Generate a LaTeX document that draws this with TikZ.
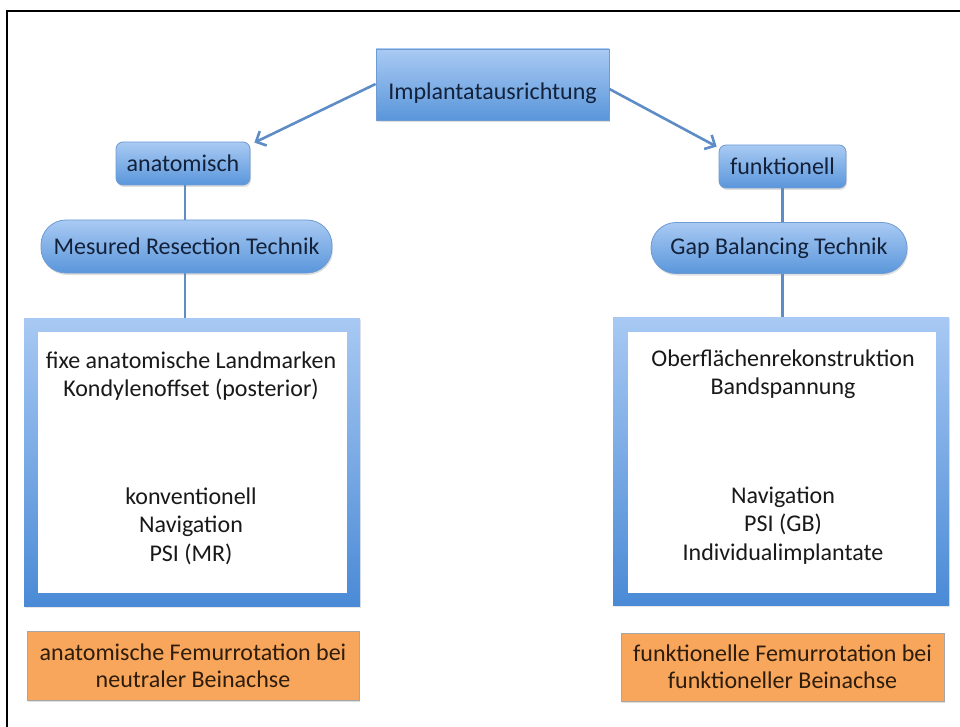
\documentclass[tikz,border=0pt]{standalone}
\usepackage{fontspec}
\setmainfont{Carlito}
\usetikzlibrary{arrows.meta,shadows}
\definecolor{bluetop}{HTML}{A9CAF3}
\definecolor{bluebot}{HTML}{5A96DB}
\definecolor{blueline}{HTML}{5E8CC6}
\definecolor{blueedge}{HTML}{6E9BD2}
\definecolor{frametop}{HTML}{A8C9F3}
\definecolor{framebot}{HTML}{4A8AD6}
\definecolor{orangefill}{HTML}{F8A65B}
\definecolor{orangeedge}{HTML}{A6A6A6}
\definecolor{navytext}{HTML}{14213A}
\definecolor{browntext}{HTML}{2E1C0C}
\tikzset{
  bluenode/.style={draw=blueedge, line width=0.8pt, top color=bluetop, bottom color=bluebot,
    text=navytext, font=\fontsize{24}{28}\selectfont, inner sep=0pt,
    drop shadow={opacity=0.25, shadow xshift=1pt, shadow yshift=-2pt}},
  rrect/.style={bluenode, rounded corners=7pt},
  stadium/.style={bluenode, rounded corners=25pt},
  frameouter/.style={draw=none, top color=frametop, bottom color=framebot, inner sep=0pt,
    drop shadow={opacity=0.2, shadow xshift=1pt, shadow yshift=-2pt}},
  frameinner/.style={fill=white, draw=none, inner sep=0pt},
  boxtext/.style={align=center, text=black!90, font=\fontsize{24}{28.5}\selectfont},
  orangebox/.style={draw=orangeedge, line width=0.8pt, fill=orangefill, align=center,
    text=browntext, font=\fontsize{24}{27}\selectfont, inner sep=0pt,
    drop shadow={opacity=0.25, shadow xshift=1pt, shadow yshift=-2pt}},
  conn/.style={draw=blueline, line width=2.6pt},
  arr/.style={conn, -{Straight Barb[length=8pt,width=16pt,line width=2.6pt]}}
}
\begin{document}
\begin{tikzpicture}[x=1pt,y=-1pt]
\useasboundingbox (0,0) rectangle (960,727);
% outer frame lines
\draw[line width=2.6pt] (7,727) -- (7,11) -- (960,11);

% top node
\node[bluenode, minimum width=233pt, minimum height=71pt, text height=30pt, text depth=0pt] (top) at (492.5,84.5) {Implantatausrichtung};

% left column
\node[rrect, minimum width=134pt, minimum height=43pt] (anat) at (183,163.5) {anatomisch};
\node[stadium, minimum width=291pt, minimum height=53pt] (mr) at (186.5,246.5) {Mesured Resection Technik};
\node[frameouter, minimum width=336pt, minimum height=288pt] (lbox) at (192,462) {};
\node[frameinner, minimum width=309pt, minimum height=261pt] (lin) at (192.5,462.5) {};
\node[boxtext] (lt1) at (191,376) {fixe anatomische Landmarken\\Kondylenoffset (posterior)};
\node[boxtext] (lt2) at (191,526) {konventionell\\Navigation\\PSI (MR)};
\node[orangebox, minimum width=332pt, minimum height=69pt] (lor) at (193,665.5) {anatomische Femurrotation bei\\neutraler Beinachse};

% right column
\node[rrect, minimum width=127pt, minimum height=43pt] (funk) at (782.5,166.5) {funktionell};
\node[stadium, minimum width=256pt, minimum height=51pt] (gb) at (779,248) {Gap Balancing Technik};
\node[frameouter, minimum width=336pt, minimum height=288pt] (rbox) at (781,461) {};
\node[frameinner, minimum width=308pt, minimum height=261pt] (rin) at (782,462.5) {};
\node[boxtext] (rt1) at (783,374) {Oberflächenrekonstruktion\\Bandspannung};
\node[boxtext] (rt2) at (783,525.5) {Navigation\\PSI (GB)\\Individualimplantate};
\node[orangebox, minimum width=323pt, minimum height=68pt] (ror) at (782.5,667) {funktionelle Femurrotation bei\\funktioneller Beinachse};

% connectors
\draw[arr] ([yshift=0.5pt]top.west) -- ([xshift=4pt,yshift=-1pt]anat.north east);
\draw[arr] ([yshift=-4.5pt]top.east) -- ([xshift=-2pt,yshift=-2pt]funk.north west);
\draw[conn] ([xshift=2pt]anat.south) -- ([xshift=2pt]anat.south |- mr.north);
\draw[conn] ([xshift=-1.5pt]mr.south) -- ([xshift=-1.5pt]mr.south |- lbox.north);
\draw[conn] (funk.south) -- (funk.south |- gb.north);
\draw[conn] (funk.south |- gb.south) -- (funk.south |- rbox.north);
\end{tikzpicture}
\end{document}
